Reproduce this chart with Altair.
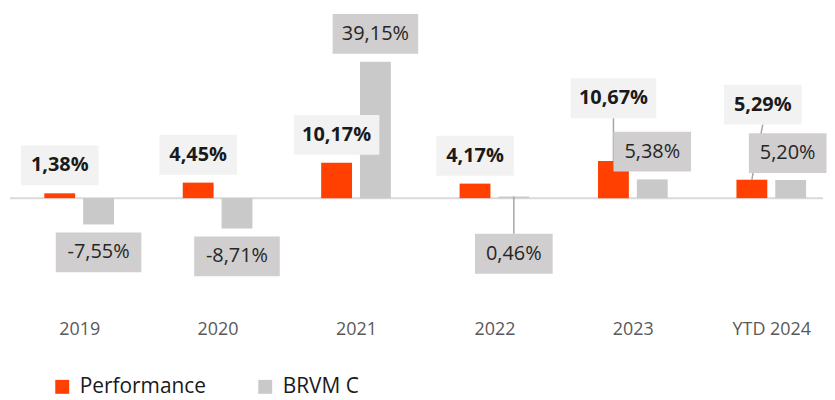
import json
import altair as alt
import pandas as pd

# ---- data ----
categories = ["2019", "2020", "2021", "2022", "2023", "YTD 2024"]
series = ["Performance", "BRVM C"]
performance = [1.38, 4.45, 10.17, 4.17, 10.67, 5.29]
brvm_c = [-7.55, -8.71, 39.15, 0.46, 5.38, 5.20]

# ---- layout constants (pixels) ----
W, H = 819, 292
PX_X = 139.1          # px per category
X0 = 71.5             # px position of first category centre in plot
x_dom = [-X0 / PX_X, (W - X0) / PX_X]
y_dom = [-29.1, 54.3]
PX_Y = H / (y_dom[1] - y_dom[0])

SERIES_OFF = {"Performance": -19.5, "BRVM C": 19.5}
BAR_HALF = 15.5
BOX_HH = 20
LABEL_GAP = 28
# special label placement: (dy px from bar end, dx px, leader line)
SPECIAL = {
    ("2022", "BRVM C"): (-57.5, 0, True),
    ("2023", "Performance"): (63, 0, True),
    ("YTD 2024", "Performance"): (75.5, 11, True),
    ("YTD 2024", "BRVM C"): (27, -3, False),
}

COLORS = {"Performance": "#FF4000", "BRVM C": "#C9C9C9"}
BOX_COLORS = {"Performance": "#F2F2F2", "BRVM C": "#D0CECE"}
FONT = "Open Sans"


def fmt(v):
    return f"{v:.2f}".replace(".", ",") + "%"


rows = []
labels = []
leaders = []
for i, cat in enumerate(categories):
    for s, vals in zip(series, [performance, brvm_c]):
        v = vals[i]
        cx = i + SERIES_OFF[s] / PX_X
        rows.append({
            "cat": cat, "series": s, "value": v,
            "x": cx - BAR_HALF / PX_X, "x2": cx + BAR_HALF / PX_X,
        })
        txt = fmt(v)
        sign = 1 if v >= 0 else -1
        dy, dx, lead = SPECIAL.get((cat, s), (sign * LABEL_GAP, 0, False))
        lx = cx + dx / PX_X
        ly = v + dy / PX_Y
        hw = (39 if len(txt) <= 5 else 43)
        labels.append({
            "series": s, "text": txt, "lx": lx, "ly": ly,
            "bx": lx - hw / PX_X, "bx2": lx + hw / PX_X,
            "by": ly - BOX_HH / PX_Y, "by2": ly + BOX_HH / PX_Y,
            "box": BOX_COLORS[s],
        })
        if lead:
            edge = ly - BOX_HH / PX_Y if dy > 0 else ly + BOX_HH / PX_Y
            leaders.append({"x": cx, "y": v, "x2": lx, "y2": edge})

bars_df = pd.DataFrame(rows)
lab_df = pd.DataFrame(labels)
lead_df = pd.DataFrame(leaders)

xs = alt.Scale(domain=x_dom, nice=False, zero=False)
ys = alt.Scale(domain=y_dom, nice=False, zero=False)

label_expr = "%s[datum.value]" % json.dumps(categories)

base_axis = alt.Axis(
    values=list(range(len(categories))), labelExpr=label_expr, title=None,
    grid=False, domain=False, ticks=False, labelFont=FONT, labelFontSize=18,
    labelColor="#595959", labelPadding=21,
)

zero = alt.Chart(pd.DataFrame({"y": [0]})).mark_rule(
    color="#D9D9D9", strokeWidth=2
).encode(
    y=alt.Y("y:Q", scale=ys, axis=None),
    x=alt.value(2), x2=alt.value(W),
)

bars = alt.Chart(bars_df).mark_rect().encode(
    x=alt.X("x:Q", scale=xs, axis=base_axis),
    x2="x2:Q",
    y=alt.Y("value:Q", scale=ys, axis=None),
    y2=alt.datum(0),
    color=alt.Color(
        "series:N",
        scale=alt.Scale(domain=series, range=[COLORS[s] for s in series]),
        legend=alt.Legend(
            title=None, orient="none", direction="horizontal",
            legendX=44, legendY=369, symbolType="square", symbolSize=196,
            symbolStrokeWidth=0, labelFont=FONT, labelFontSize=21,
            labelColor="#1A1A1A", labelOffset=7, columnPadding=48,
        ),
    ),
)

lead = alt.Chart(lead_df).mark_rule(color="#A6A6A6", strokeWidth=1.5).encode(
    x=alt.X("x:Q", scale=xs), y=alt.Y("y:Q", scale=ys), x2="x2:Q", y2="y2:Q"
)

boxes = alt.Chart(lab_df).mark_rect().encode(
    x=alt.X("bx:Q", scale=xs), x2="bx2:Q",
    y=alt.Y("by:Q", scale=ys), y2="by2:Q",
    color=alt.Color("box:N", scale=None),
)

txt_perf = alt.Chart(lab_df[lab_df.series == "Performance"]).mark_text(
    font=FONT, fontSize=20, fontWeight="bold", color="#1A1A1A", baseline="middle"
).encode(x=alt.X("lx:Q", scale=xs), y=alt.Y("ly:Q", scale=ys), text="text:N")

txt_brvm = alt.Chart(lab_df[lab_df.series == "BRVM C"]).mark_text(
    font=FONT, fontSize=20, fontWeight="normal", color="#262626", baseline="middle"
).encode(x=alt.X("lx:Q", scale=xs), y=alt.Y("ly:Q", scale=ys), text="text:N")

chart = alt.layer(zero, bars, lead, boxes, txt_perf, txt_brvm).properties(
    width=W, height=H, padding={"left": 0, "top": 0, "right": 0, "bottom": 0}
).configure(background="white").configure_view(strokeWidth=0, stroke=None)

chart.save("out.html", embed_options={"renderer": "svg", "actions": False})
